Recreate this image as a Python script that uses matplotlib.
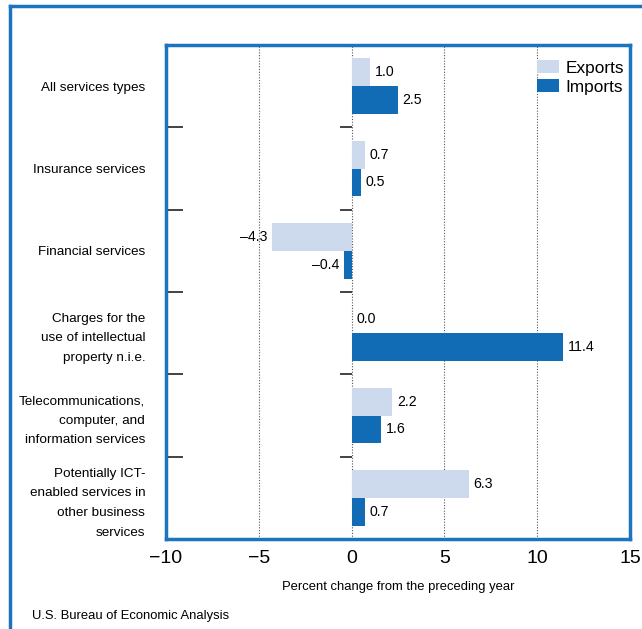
import numpy as np
import matplotlib.pyplot as plt
from matplotlib import rcParams
from matplotlib.lines import Line2D

rcParams['font.family'] = 'Liberation Sans'

categories = ['All services types', 'Insurance services', 'Financial services',
              'Charges for the\nuse of intellectual\nproperty n.i.e.',
              'Telecommunications,\ncomputer, and\ninformation services',
              'Potentially ICT-\nenabled services in\nother business\nservices']
exports = [1.0, 0.7, -4.3, 0.0, 2.2, 6.3]
imports = [2.5, 0.5, -0.4, 11.4, 1.6, 0.7]
x_ticks = [-10, -5, 0, 5, 10, 15]

frame_color = '#1b74bd'
exp_color = '#cdd9ec'
imp_color = '#116cb5'

fig = plt.figure(figsize=(6.42, 6.29), dpi=100)
ax = fig.add_axes([166 / 642, 90 / 629, 464 / 642, 494 / 629])

y = np.arange(len(categories))
h = 0.34
ax.barh(y - h / 2, exports, height=h, color=exp_color, label='Exports', zorder=2)
ax.barh(y + h / 2, imports, height=h, color=imp_color, label='Imports', zorder=2)

fs = 10.2
for yi, v in zip(y, exports):
    if v < 0:
        ax.text(v - 0.25, yi - h / 2, f'\u2013{abs(v):.1f}', ha='right', va='center', fontsize=fs)
    else:
        ax.text(v + 0.25, yi - h / 2, f'{v:.1f}', ha='left', va='center', fontsize=fs)
for yi, v in zip(y, imports):
    if v < 0:
        ax.text(v - 0.25, yi + h / 2, f'\u2013{abs(v):.1f}', ha='right', va='center', fontsize=fs)
    else:
        ax.text(v + 0.25, yi + h / 2, f'{v:.1f}', ha='left', va='center', fontsize=fs)

ax.set_xlim(-10, 15)
ax.set_ylim(len(categories) - 0.5, -0.5)
ax.set_xticks(x_ticks)
ax.set_xticklabels([f'\u2212{abs(t)}' if t < 0 else str(t) for t in x_ticks], fontsize=14)
ax.tick_params(axis='x', length=0, pad=8)

for gx in [-5, 0, 5, 10]:
    ax.axvline(gx, color='#555555', linestyle=(0, (1, 1.5)), linewidth=0.8, zorder=1)

# category labels and separators
ax.set_yticks(y)
ax.set_yticklabels(categories, fontsize=9.7, ha='right')
for lbl in ax.get_yticklabels():
    lbl.set_linespacing(1.85)
ax.tick_params(axis='y', length=0, pad=15)
bounds = np.arange(0.5, len(categories) - 0.5, 1)
ax.set_yticks(bounds, minor=True)
ax.tick_params(axis='y', which='minor', direction='in', length=12, width=1.2, color='#222222')
ax.hlines(bounds, -0.6, 0, color='#222222', linewidth=1.2, zorder=3)

for s in ax.spines.values():
    s.set_color(frame_color)
    s.set_linewidth(2.5)

ax.set_xlabel('Percent change from the preceding year', fontsize=9.4, labelpad=10)

ax.legend(loc='upper right', fontsize=12.4, frameon=False, handlelength=1.3,
          handleheight=0.8, handletextpad=0.4, labelspacing=0.2,
          borderaxespad=0.2, bbox_to_anchor=(1.01, 0.99))

# outer frame (left and top)
fig.add_artist(Line2D([10 / 642, 10 / 642], [0, 1 - 6 / 629], color=frame_color,
                      linewidth=2.5, transform=fig.transFigure))
fig.add_artist(Line2D([10 / 642, 1], [1 - 6 / 629, 1 - 6 / 629], color=frame_color,
                      linewidth=2.5, transform=fig.transFigure))

fig.text(32 / 642, 1 - 616 / 629, 'U.S. Bureau of Economic Analysis', fontsize=9.4, va='center')

plt.savefig('out.png', dpi=100)
